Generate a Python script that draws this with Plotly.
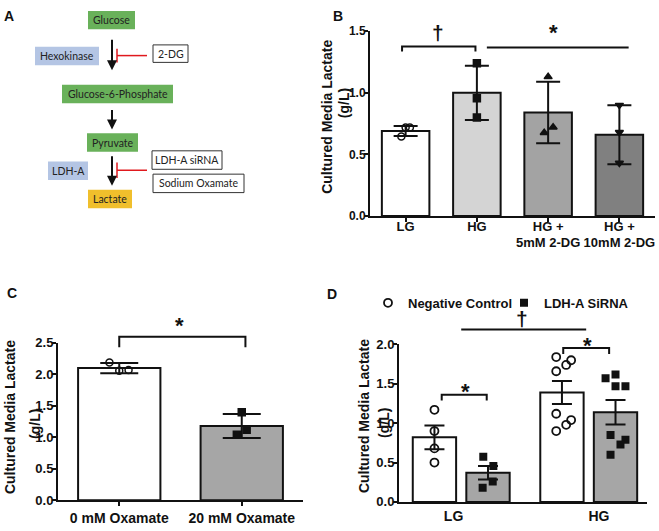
import plotly.graph_objects as go

W, H = 659, 531


def px(x):
    return x / W


def py(y):
    return 1 - y / H


# ---------------- DATA ----------------
# Panel B
b_groups = ["LG", "HG", "HG +<br>5mM 2-DG", "HG +<br>10mM 2-DG"]
b_means = [0.69, 1.00, 0.84, 0.66]
b_err = [0.04, 0.22, 0.25, 0.24]
b_pts_lg = [0.645, 0.718, 0.718]
b_pts_hg = [1.24, 0.955, 0.80]
b_pts_5 = [1.13, 0.72, 0.676]
b_pts_10 = [0.90, 0.68, 0.43]

# Panel C
c_groups = ["0 mM Oxamate", "20 mM Oxamate"]
c_means = [2.10, 1.18]
c_err = [0.08, 0.19]
c_pts_0 = [2.19, 2.06, 2.07]
c_pts_20 = [1.40, 1.12, 1.04]

# Panel D
d_groups = ["LG", "HG"]
d_series = ["Negative Control", "LDH-A SiRNA"]
d_nc_means = [0.82, 1.39]
d_nc_err = [0.15, 0.145]
d_si_means = [0.37, 1.14]
d_si_err = [0.085, 0.155]
d_nc_lg = [1.17, 0.90, 0.68, 0.50]
d_si_lg = [0.575, 0.457, 0.26, 0.18]
d_nc_hg = [1.84, 1.80, 1.74, 1.66, 1.12, 1.04, 0.98, 0.90]
d_si_hg = [1.57, 1.62, 1.47, 1.47, 0.85, 0.79, 0.73, 0.60]

# Panel A (pathway text)
a_nodes = ["Glucose", "Hexokinase", "2-DG", "Glucose-6-Phosphate", "Pyruvate",
           "LDH-A", "LDH-A siRNA", "Sodium Oxamate", "Lactate"]

# ---------------- STYLE / POSITIONS ----------------
# horizontal jitter of the dots (in category units)
b_jit = [[-0.06, 0.0, 0.06], [0, 0, 0], [0.0, 0.07, -0.055], [0, 0, 0]]
c_jit = [[-0.08, 0.0, 0.076], [0.0, 0.04, -0.04]]
d_off = 0.21
d_jit_nc_lg = [0, 0, 0, 0]
d_jit_si_lg = [-0.037, 0.042, 0.037, -0.042]
d_jit_nc_hg = [-0.045, 0.072, 0.033, -0.045, -0.045, 0.072, 0.033, -0.045]
d_jit_si_hg = [-0.078, 0, 0, 0.078, -0.039, 0.078, 0.039, -0.039]

FONT = "Liberation Sans, Arial, sans-serif"
BLACK = "#111111"

# axis domains (paper)
B_XD = [px(370), px(655)]
B_YD = [py(215), py(25)]
B_YR = [0, 1.5]
C_XD = [px(58), px(303)]
C_YD = [py(507.7), py(345.7)]
C_YR = [0, 2.5]
D_XD = [px(399), px(647)]
D_YD = [py(509.3), py(347.3)]
D_YR = [0, 2.0]


def yp(v, dom, rng):
    return dom[0] + (v - rng[0]) / (rng[1] - rng[0]) * (dom[1] - dom[0])


fig = go.Figure()

# ---------- Panel B ----------
fig.add_trace(go.Bar(
    x=list(range(len(b_groups))), y=b_means, width=0.667,
    marker=dict(color=["#ffffff", "#d4d4d4", "#a3a3a3", "#808080"],
                line=dict(color=BLACK, width=2)),
    error_y=dict(type="data", array=b_err, visible=True, color=BLACK,
                 thickness=2, width=12),
    xaxis="x", yaxis="y", showlegend=False))
b_sets = [(b_pts_lg, "circle-open"), (b_pts_hg, "square"),
          (b_pts_5, "triangle-up"), (b_pts_10, "triangle-down")]
for i, (pts, sym) in enumerate(b_sets):
    fig.add_trace(go.Scatter(
        x=[i + j for j in b_jit[i]], y=pts, mode="markers",
        marker=dict(symbol=sym, size=7, color=BLACK, line=dict(color=BLACK, width=1.5)),
        xaxis="x", yaxis="y", showlegend=False))

# ---------- Panel C ----------
fig.add_trace(go.Bar(
    x=list(range(len(c_groups))), y=c_means, width=0.672,
    marker=dict(color=["#ffffff", "#a6a6a6"], line=dict(color=BLACK, width=2)),
    error_y=dict(type="data", array=c_err, visible=True, color=BLACK,
                 thickness=2, width=19),
    xaxis="x2", yaxis="y2", showlegend=False))
c_sets = [(c_pts_0, "circle-open"), (c_pts_20, "square")]
for i, (pts, sym) in enumerate(c_sets):
    fig.add_trace(go.Scatter(
        x=[i + j for j in c_jit[i]], y=pts, mode="markers",
        marker=dict(symbol=sym, size=7, color=BLACK, line=dict(color=BLACK, width=1.5)),
        xaxis="x2", yaxis="y2", showlegend=False))

# ---------- Panel D ----------
fig.add_trace(go.Bar(
    x=list(range(len(d_groups))), y=d_nc_means, width=0.34, offset=-d_off - 0.17,
    marker=dict(color="#ffffff", line=dict(color=BLACK, width=2)),
    error_y=dict(type="data", array=d_nc_err, visible=True, color=BLACK,
                 thickness=2, width=10),
    xaxis="x3", yaxis="y3", showlegend=False))
fig.add_trace(go.Bar(
    x=list(range(len(d_groups))), y=d_si_means, width=0.34, offset=d_off - 0.17,
    marker=dict(color="#a6a6a6", line=dict(color=BLACK, width=2)),
    error_y=dict(type="data", array=d_si_err, visible=True, color=BLACK,
                 thickness=2, width=10),
    xaxis="x3", yaxis="y3", showlegend=False))
nc_x = [0 - d_off + j for j in d_jit_nc_lg] + [1 - d_off + j for j in d_jit_nc_hg]
si_x = [0 + d_off + j for j in d_jit_si_lg] + [1 + d_off + j for j in d_jit_si_hg]
fig.add_trace(go.Scatter(
    x=nc_x, y=d_nc_lg + d_nc_hg, mode="markers", name=d_series[0],
    marker=dict(symbol="circle-open", size=8, color=BLACK, line=dict(color=BLACK, width=1.8)),
    xaxis="x3", yaxis="y3", showlegend=True))
fig.add_trace(go.Scatter(
    x=si_x, y=d_si_lg + d_si_hg, mode="markers", name=d_series[1],
    marker=dict(symbol="square", size=8, color=BLACK),
    xaxis="x3", yaxis="y3", showlegend=True))

# ---------- Axes ----------
def tf(size):
    return dict(family=FONT, size=size, color=BLACK, weight="bold")


common_y = dict(showline=True, linecolor=BLACK, linewidth=2, ticks="outside",
                ticklen=4, tickwidth=2, tickcolor=BLACK, showgrid=False,
                zeroline=False, tickformat=".1f", dtick=0.5,
                fixedrange=True, ticklabelstandoff=-4)
common_x = dict(showline=True, linecolor=BLACK, linewidth=2, ticks="outside",
                ticklen=4, tickwidth=2, tickcolor=BLACK, showgrid=False,
                zeroline=False, fixedrange=True, tickangle=0)

fig.update_layout(
    xaxis=dict(common_x, domain=B_XD, range=[-0.5, 3.5], anchor="y", tickfont=tf(13),
               tickvals=list(range(len(b_groups))), ticktext=b_groups,
               ticklabelstandoff=-7),
    yaxis=dict(common_y, domain=B_YD, range=B_YR, anchor="x", tickfont=tf(12)),
    xaxis2=dict(common_x, domain=C_XD, range=[-0.5, 1.5], anchor="y2", tickfont=tf(14),
                tickvals=list(range(len(c_groups))), ticktext=c_groups),
    yaxis2=dict(common_y, domain=C_YD, range=C_YR, anchor="x2", tickfont=tf(13)),
    xaxis3=dict(common_x, domain=D_XD, range=[-0.488, 1.457], anchor="y3", tickfont=tf(14),
                tickvals=[-0.06, 1.08], ticktext=d_groups, ticks=""),
    yaxis3=dict(common_y, domain=D_YD, range=D_YR, anchor="x3", tickfont=tf(13)),
)

shapes = []
anns = []


def bracket(xref, x0, x1, ytop, ylow, dom, rng, ticks=True, w=2):
    yt = yp(ytop, dom, rng)
    yl = yp(ylow, dom, rng)
    if ticks:
        path = f"M {x0},{yl} L {x0},{yt} L {x1},{yt} L {x1},{yl}"
    else:
        path = f"M {x0},{yt} L {x1},{yt}"
    shapes.append(dict(type="path", xref=xref, yref="paper", path=path,
                       line=dict(color=BLACK, width=w)))


def sym_text(xref, x, ypaper, txt, size):
    anns.append(dict(xref=xref, yref="paper", x=x, y=ypaper, text=txt,
                     showarrow=False, xanchor="center", yanchor="middle",
                     font=dict(family=FONT, size=size, color=BLACK, weight="bold")))


# B brackets
bracket("x", -0.05, 0.98, 1.376, 1.336, B_YD, B_YR)
bracket("x", 1.14, 3.13, 1.368, 1.368, B_YD, B_YR, ticks=False)
sym_text("x", 0.45, py(26), "†", 21)
sym_text("x", 2.08, py(26), "*", 22)
# C bracket
bracket("x2", 0.0, 1.03, 2.60, 2.43, C_YD, C_YR)
sym_text("x2", 0.49, py(328), "*", 22)
# D brackets
bracket("x3", 0.0, 0.98, 2.19, 2.19, D_YD, D_YR, ticks=False)
sym_text("x3", 0.475, py(321), "†", 21)
bracket("x3", 0.80, 1.16, 1.954, 1.88, D_YD, D_YR)
sym_text("x3", 0.99, py(348), "*", 22)
bracket("x3", -0.153, 0.20, 1.362, 1.288, D_YD, D_YR)
sym_text("x3", 0.03, py(396), "*", 22)


# y titles
def ytitle(x, y, txt, size=14):
    anns.append(dict(xref="paper", yref="paper", x=px(x), y=py(y), text=txt,
                     textangle=-90, showarrow=False, xanchor="center", yanchor="middle",
                     font=dict(family=FONT, size=size, color=BLACK, weight="bold")))


ytitle(327, 113, "Cultured Media Lactate")
ytitle(344, 99, "(g/L)")
ytitle(10, 422, "Cultured Media Lactate")
ytitle(35, 429, "(g/L)")
ytitle(364, 421, "Cultured Media Lactate")
ytitle(384, 428, "(g/L)")

# panel letters
for lab, (x, y) in zip(["A", "B", "C", "D"], [(9, 9), (338, 9), (12, 294), (332, 295)]):
    anns.append(dict(xref="paper", yref="paper", x=px(x), y=py(y), text=lab,
                     showarrow=False, xanchor="center", yanchor="middle",
                     font=dict(family=FONT, size=14, color=BLACK, weight="bold")))

# ---------- Panel A diagram ----------
GREEN = "#69b15a"
BLUE = "#b4c5e4"
GOLD = "#f0bf2c"
boxes = [  # (x0, y0, x1, y1, fill, border)
    (88, 4, 135, 23, GREEN, None),
    (35, 41, 99, 60, BLUE, None),
    (153, 39, 188, 57, "#ffffff", "#333333"),
    (62, 80, 173, 99, GREEN, None),
    (87, 130, 138, 149, GREEN, None),
    (48, 159, 88, 178, BLUE, None),
    (152, 148, 222, 167, "#ffffff", "#333333"),
    (153, 172, 244, 191, "#ffffff", "#333333"),
    (88, 188, 132, 207, GOLD, None),
]
for (x0, y0, x1, y1, fill, border), label in zip(boxes, a_nodes):
    shapes.append(dict(type="rect", xref="paper", yref="paper",
                       x0=px(x0), x1=px(x1), y0=py(y1), y1=py(y0),
                       fillcolor=fill,
                       line=dict(color=border or fill, width=1 if border else 0)))
    anns.append(dict(xref="paper", yref="paper", x=px((x0 + x1) / 2), y=py((y0 + y1) / 2),
                     text=label, showarrow=False, xanchor="center", yanchor="middle",
                     font=dict(family="Lato, Open Sans, sans-serif", size=10.5, color="#222222")))

# arrows
for (yt, yh) in [(33, 65), (105, 126), (153, 184)]:
    anns.append(dict(xref="paper", yref="paper", x=px(112), y=py(yh), ax=0, ay=-(yh - yt),
                     text="", showarrow=True, arrowhead=2, arrowsize=1, arrowwidth=2,
                     arrowcolor=BLACK))
# red inhibitors
RED = "#e0191e"
for (ya, yb, ym) in [(43, 57, 50), (160, 176, 168)]:
    shapes.append(dict(type="line", xref="paper", yref="paper", x0=px(117), x1=px(117),
                       y0=py(ya), y1=py(yb), line=dict(color=RED, width=1.5)))
    shapes.append(dict(type="line", xref="paper", yref="paper", x0=px(117), x1=px(147),
                       y0=py(ym), y1=py(ym), line=dict(color=RED, width=1.5)))

fig.update_layout(
    width=W, height=H, margin=dict(l=0, r=0, t=0, b=0),
    paper_bgcolor="white", plot_bgcolor="white",
    barmode="overlay",
    shapes=shapes, annotations=anns,
    showlegend=True,
    legend=dict(orientation="h", x=px(368), y=py(289), xanchor="left", yanchor="top",
                font=dict(family=FONT, size=13, color=BLACK, weight="bold"),
                bgcolor="rgba(0,0,0,0)", entrywidth=91, entrywidthmode="pixels",
                itemclick=False, itemdoubleclick=False),
)

fig.write_html(
    "out.html",
    config={"displayModeBar": False},
    post_script="document.body.style.margin='0px';"
                "document.documentElement.style.overflow='hidden';",
)
